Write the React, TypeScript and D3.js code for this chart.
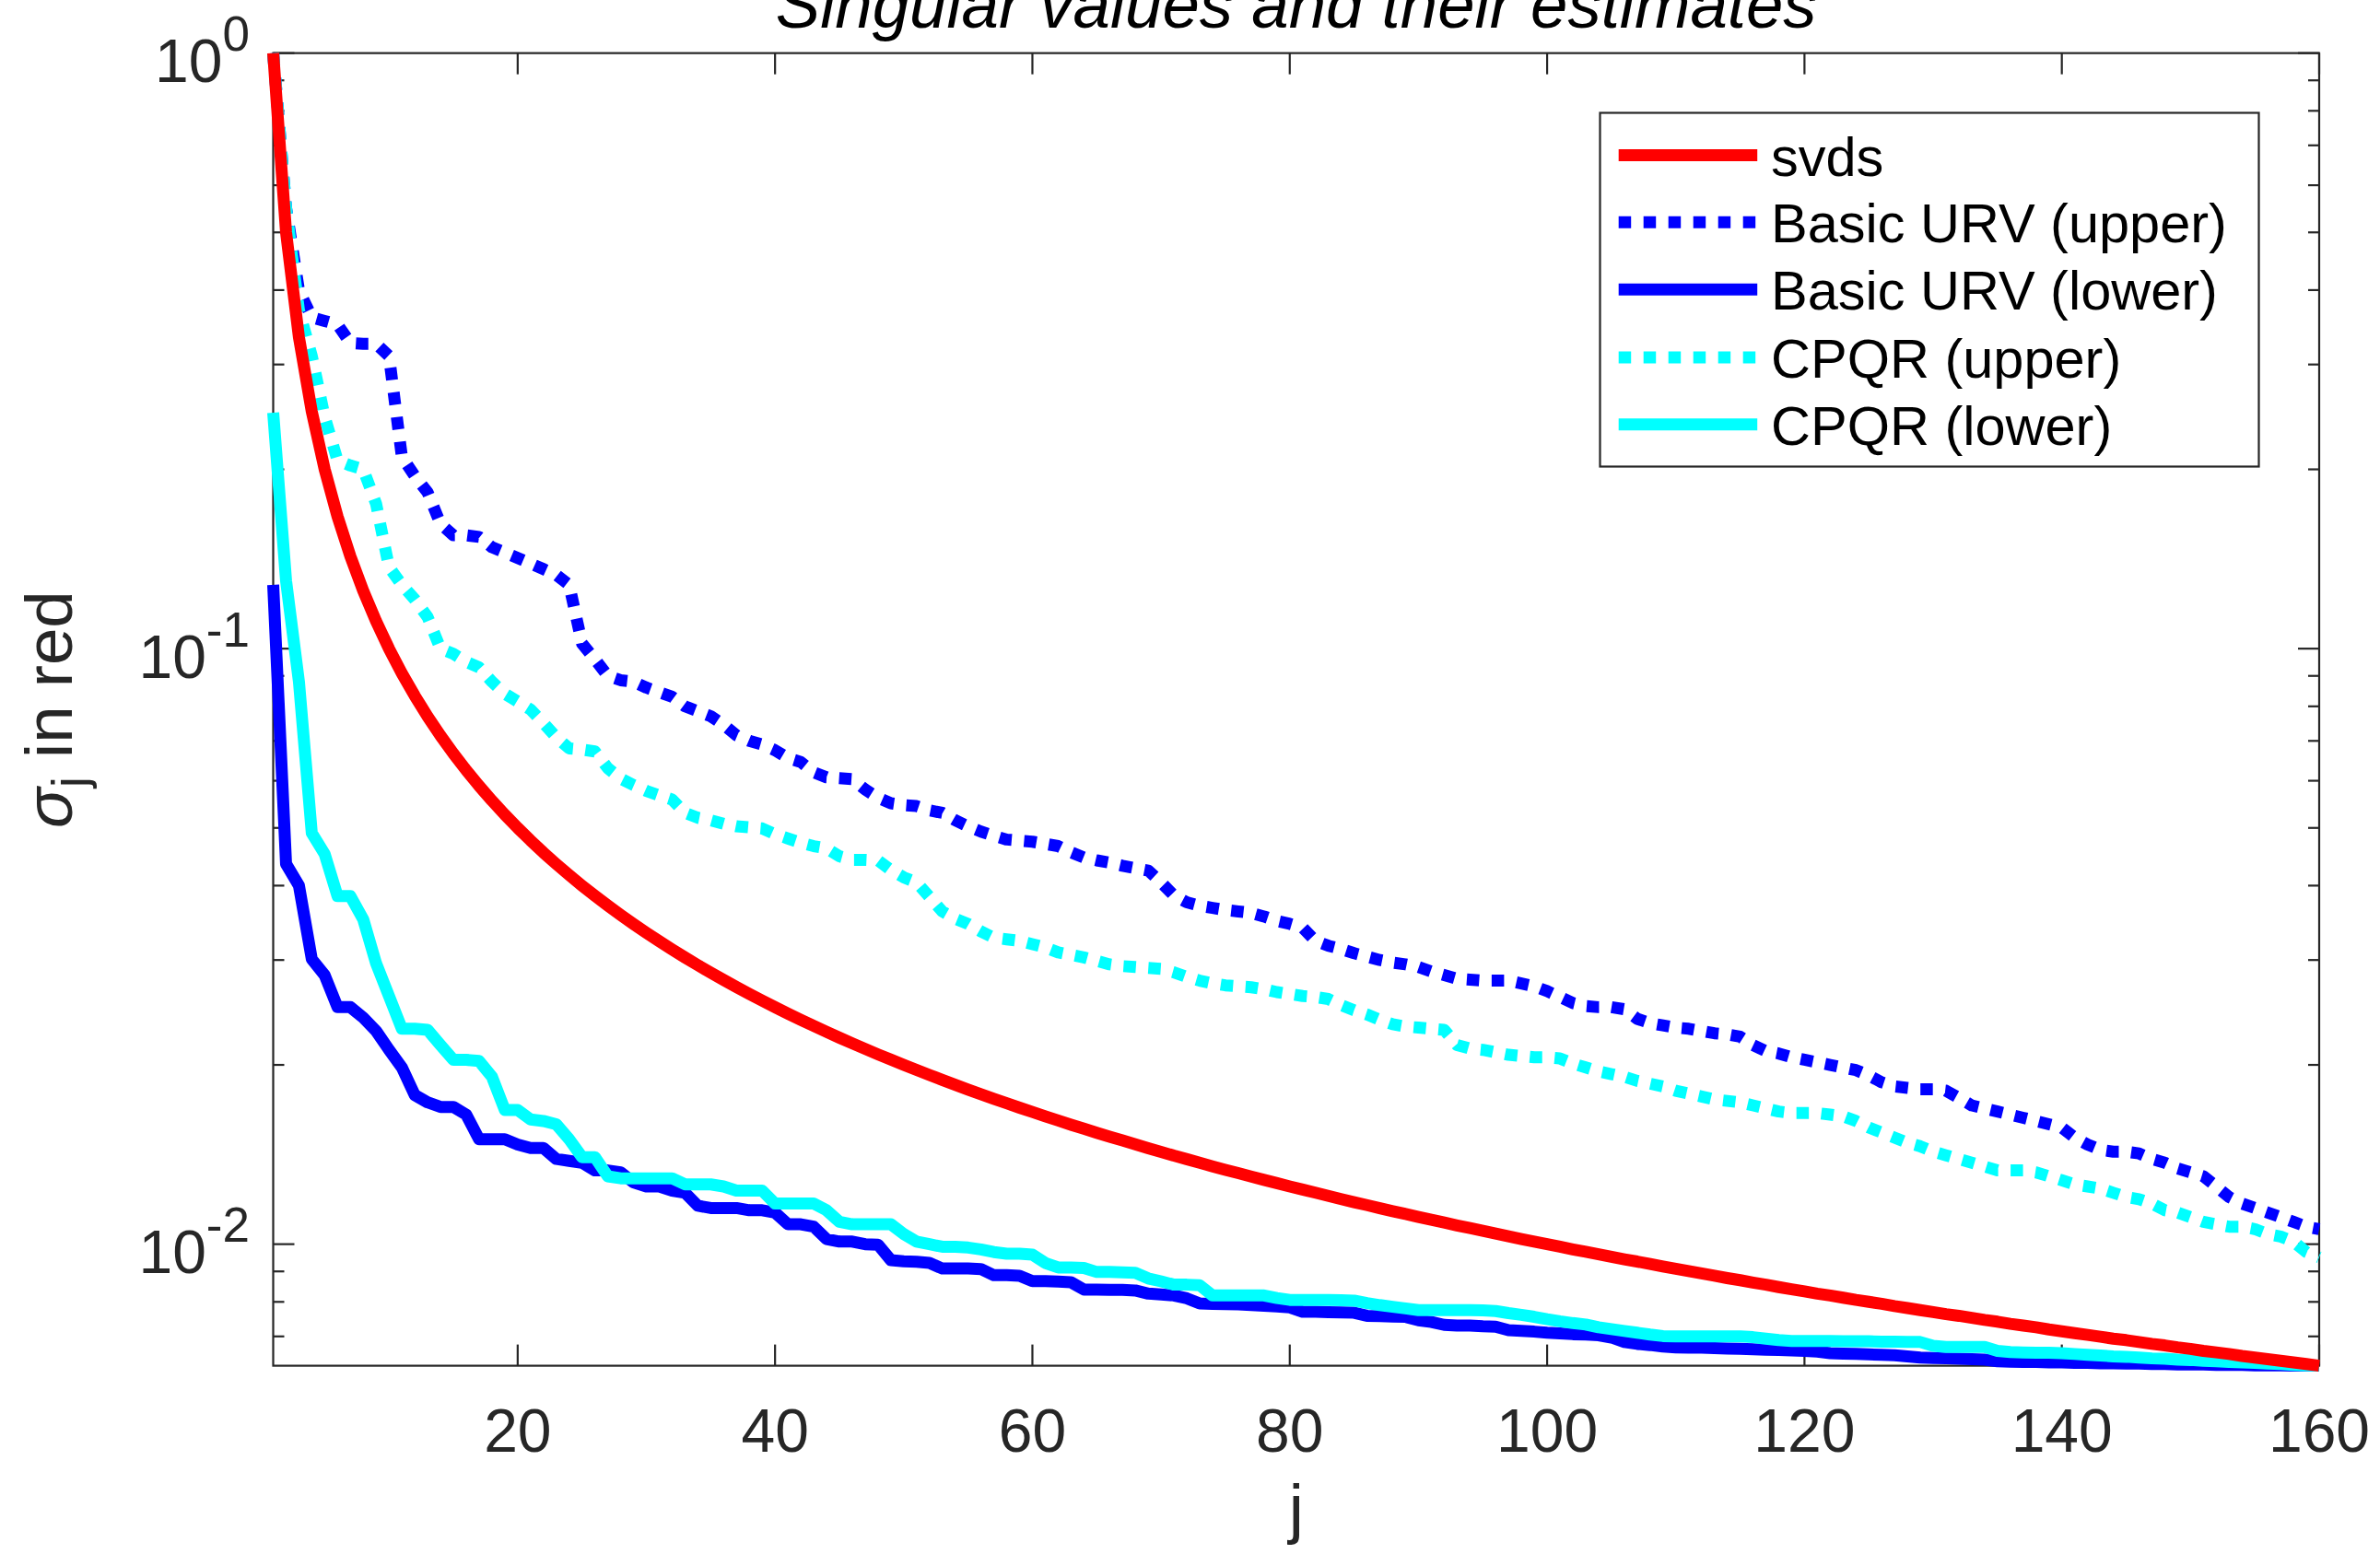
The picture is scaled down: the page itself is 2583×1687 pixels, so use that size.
import React from 'react';
import * as d3 from 'd3';

// Singular values of the test matrix (svds) and the bounds from two rank-revealing factorizations.
const SVDS: number[] = [
  1, 0.5, 0.3333, 0.25, 0.2, 0.1667, 0.1429, 0.125, 0.1111, 0.1,
  0.09091, 0.08333, 0.07692, 0.07143, 0.06667, 0.0625, 0.05882, 0.05556, 0.05263, 0.05,
  0.04762, 0.04545, 0.04348, 0.04167, 0.04, 0.03846, 0.03704, 0.03571, 0.03448, 0.03333,
  0.03226, 0.03125, 0.0303, 0.02941, 0.02857, 0.02778, 0.02703, 0.02632, 0.02564, 0.025,
  0.02439, 0.02381, 0.02326, 0.02273, 0.02222, 0.02174, 0.02128, 0.02083, 0.02041, 0.02,
  0.01961, 0.01923, 0.01887, 0.01852, 0.01818, 0.01786, 0.01754, 0.01724, 0.01695, 0.01667,
  0.01639, 0.01613, 0.01587, 0.01563, 0.01538, 0.01515, 0.01493, 0.01471, 0.01449, 0.01429,
  0.01408, 0.01389, 0.0137, 0.01351, 0.01333, 0.01316, 0.01299, 0.01282, 0.01266, 0.0125,
  0.01235, 0.0122, 0.01205, 0.0119, 0.01176, 0.01163, 0.01149, 0.01136, 0.01124, 0.01111,
  0.01099, 0.01087, 0.01075, 0.01064, 0.01053, 0.01042, 0.01031, 0.0102, 0.0101, 0.01,
  0.0099, 0.0098, 0.00971, 0.00962, 0.00952, 0.00943, 0.00935, 0.00926, 0.00917, 0.00909,
  0.00901, 0.00893, 0.00885, 0.00877, 0.0087, 0.00862, 0.00855, 0.00847, 0.0084, 0.00833,
  0.00826, 0.0082, 0.00813, 0.00806, 0.008, 0.00794, 0.00787, 0.00781, 0.00775, 0.00769,
  0.00763, 0.00758, 0.00752, 0.00746, 0.00741, 0.00735, 0.0073, 0.00725, 0.00719, 0.00714,
  0.00709, 0.00704, 0.00699, 0.00694, 0.0069, 0.00685, 0.0068, 0.00676, 0.00671, 0.00667,
  0.00662, 0.00658, 0.00654, 0.00649, 0.00645, 0.00641, 0.00637, 0.00633, 0.00629, 0.00625,
];

const URV_UPPER: number[] = [
  1.0, 0.55, 0.4, 0.36, 0.355, 0.35, 0.326, 0.325, 0.325, 0.31,
  0.21, 0.195, 0.183, 0.162, 0.155, 0.155, 0.154, 0.148, 0.145, 0.142,
  0.139, 0.136, 0.133, 0.128, 0.102, 0.096, 0.09, 0.0885, 0.088, 0.086,
  0.0845, 0.083, 0.08, 0.0785, 0.077, 0.0745, 0.0715, 0.07, 0.069, 0.0675,
  0.0655, 0.0645, 0.062, 0.0608, 0.0606, 0.0604, 0.058, 0.0562, 0.055, 0.0546,
  0.0544, 0.0535, 0.053, 0.0515, 0.0503, 0.0493, 0.0485, 0.0478, 0.0476, 0.0474,
  0.047, 0.0466, 0.0455, 0.0446, 0.0441, 0.0437, 0.0432, 0.0428, 0.0424, 0.0405,
  0.0385, 0.0375, 0.037, 0.0367, 0.0364, 0.0362, 0.036, 0.0355, 0.0349, 0.0345,
  0.034, 0.0323, 0.0317, 0.0313, 0.0308, 0.0304, 0.03, 0.0297, 0.0295, 0.0292,
  0.0287, 0.0283, 0.0279, 0.0278, 0.0277, 0.0277, 0.0277, 0.0274, 0.0271, 0.0266,
  0.026, 0.0254, 0.0251, 0.025, 0.025, 0.0248, 0.0239, 0.0235, 0.0233, 0.0231,
  0.023, 0.0228, 0.0226, 0.0225, 0.0223, 0.0216, 0.0211, 0.0209, 0.0206, 0.0204,
  0.0202, 0.02, 0.0198, 0.0196, 0.0192, 0.0187, 0.0184, 0.0183, 0.0182, 0.0182,
  0.0181, 0.0176, 0.0171, 0.0169, 0.0167, 0.0165, 0.0163, 0.0161, 0.0159, 0.0157,
  0.0151, 0.0147, 0.0144, 0.0143, 0.0143, 0.0142, 0.0139, 0.0137, 0.0134, 0.0132,
  0.013, 0.0125, 0.012, 0.0117, 0.0115, 0.0113, 0.0111, 0.0109, 0.0107, 0.0106,
];

const URV_LOWER: number[] = [
  0.128, 0.0435, 0.04, 0.0301, 0.0283, 0.025, 0.025, 0.024, 0.0228, 0.0212,
  0.0198, 0.0178, 0.0173, 0.017, 0.017, 0.0165, 0.015, 0.015, 0.015, 0.0147,
  0.0145, 0.0145, 0.0139, 0.0138, 0.0137, 0.0133, 0.0133, 0.0132, 0.0127, 0.0125,
  0.0125, 0.0123, 0.0122, 0.0116, 0.0115, 0.0115, 0.0115, 0.0114, 0.0114, 0.0113,
  0.0108, 0.0108, 0.0107, 0.0102, 0.0101, 0.0101, 0.01, 0.00998, 0.0094, 0.00936,
  0.00934, 0.0093, 0.0091, 0.0091, 0.0091, 0.00908, 0.00887, 0.00887, 0.00885, 0.00867,
  0.00867, 0.00865, 0.00863, 0.00839, 0.00839, 0.00838, 0.00838, 0.00836, 0.00826, 0.00823,
  0.0082, 0.00811, 0.00795, 0.00794, 0.00793, 0.00792, 0.0079, 0.00788, 0.00786, 0.00783,
  0.0077, 0.0077, 0.00769, 0.00768, 0.00767, 0.00758, 0.00757, 0.00756, 0.00755, 0.00745,
  0.0074, 0.00732, 0.0073, 0.0073, 0.00728, 0.00727, 0.00717, 0.00715, 0.00713, 0.0071,
  0.00708, 0.00706, 0.00705, 0.00703, 0.00697, 0.00685, 0.0068, 0.00677, 0.00673, 0.00671,
  0.0067, 0.0067, 0.00669, 0.00668, 0.00667, 0.00666, 0.00665, 0.00664, 0.00663, 0.00662,
  0.0066, 0.00656, 0.00655, 0.00654, 0.00653, 0.00652, 0.00651, 0.00648, 0.00645, 0.00644,
  0.00643, 0.00642, 0.00641, 0.0064, 0.00636, 0.00635, 0.00634, 0.00634, 0.00633, 0.00633,
  0.00632, 0.00632, 0.00631, 0.00631, 0.0063, 0.0063, 0.00629, 0.00629, 0.00628, 0.00628,
  0.00628, 0.00627, 0.00627, 0.00627, 0.00626, 0.00626, 0.00626, 0.00625, 0.00625, 0.00625,
];

const CPQR_UPPER: number[] = [
  1.0, 0.55, 0.37, 0.31, 0.245, 0.207, 0.203, 0.2, 0.175, 0.137,
  0.128, 0.121, 0.113, 0.1, 0.098, 0.095, 0.093, 0.088, 0.084, 0.0815,
  0.079, 0.075, 0.071, 0.068, 0.0677, 0.0672, 0.063, 0.0605, 0.059, 0.0577,
  0.0567, 0.0558, 0.053, 0.052, 0.0515, 0.0508, 0.0503, 0.0501, 0.0499, 0.0488,
  0.048, 0.0472, 0.0466, 0.0462, 0.0448, 0.0442, 0.0442, 0.0441, 0.0425, 0.0413,
  0.0405, 0.0383, 0.0362, 0.0352, 0.0345, 0.0335, 0.0327, 0.0325, 0.0323, 0.0319,
  0.0315, 0.0309, 0.0306, 0.0303, 0.0299, 0.0295, 0.0293, 0.0292, 0.0291, 0.029,
  0.0286, 0.0281, 0.0277, 0.0274, 0.0272, 0.0271, 0.027, 0.0268, 0.0265, 0.0263,
  0.0261, 0.026, 0.0258, 0.0252, 0.0247, 0.0243, 0.0238, 0.0234, 0.0232, 0.0231,
  0.023, 0.0229, 0.0216, 0.0213, 0.0212, 0.021, 0.0208, 0.0207, 0.0206, 0.0206,
  0.0205, 0.0201, 0.0198, 0.0195, 0.0193, 0.0191, 0.0188, 0.0186, 0.0184, 0.0181,
  0.0179, 0.0177, 0.0175, 0.0174, 0.0173, 0.0171, 0.0169, 0.0167, 0.0166, 0.0166,
  0.0166, 0.0165, 0.0164, 0.0161, 0.0157, 0.0154, 0.0151, 0.0148, 0.0146, 0.0143,
  0.0141, 0.0139, 0.0137, 0.0135, 0.0133, 0.0133, 0.0133, 0.0132, 0.013, 0.0128,
  0.0126, 0.0125, 0.0124, 0.0122, 0.012, 0.0119, 0.0117, 0.0114, 0.0113, 0.0111,
  0.0109, 0.0108, 0.0107, 0.0107, 0.0106, 0.0104, 0.0103, 0.0101, 0.0097, 0.0095,
];

const CPQR_LOWER: number[] = [
  0.249, 0.13, 0.088, 0.049, 0.0452, 0.0384, 0.0384, 0.0351, 0.0296, 0.0261,
  0.023, 0.023, 0.0229, 0.0216, 0.0204, 0.0204, 0.0203, 0.0191, 0.0168, 0.0168,
  0.0162, 0.0161, 0.0159, 0.015, 0.014, 0.014, 0.013, 0.0129, 0.0129, 0.0129,
  0.0129, 0.0129, 0.0126, 0.0126, 0.0126, 0.0125, 0.0123, 0.0123, 0.0123, 0.0117,
  0.0117, 0.0117, 0.0117, 0.0114, 0.0109, 0.0108, 0.0108, 0.0108, 0.0108, 0.0104,
  0.0101, 0.01, 0.0099, 0.0099, 0.00987, 0.0098, 0.0097, 0.00964, 0.00964, 0.0096,
  0.0093, 0.00914, 0.00914, 0.00912, 0.00898, 0.00898, 0.00897, 0.00895, 0.00876, 0.00866,
  0.00855, 0.00855, 0.00853, 0.0082, 0.0082, 0.0082, 0.0082, 0.0082, 0.00812, 0.00806,
  0.00806, 0.00806, 0.00806, 0.00805, 0.00804, 0.00796, 0.0079, 0.00785, 0.0078, 0.00775,
  0.00775, 0.00775, 0.00775, 0.00775, 0.00774, 0.00772, 0.00766, 0.00761, 0.00755, 0.00748,
  0.00742, 0.00737, 0.00733, 0.00725, 0.0072, 0.00715, 0.0071, 0.00705, 0.00701, 0.007,
  0.007, 0.007, 0.007, 0.007, 0.007, 0.00698, 0.00694, 0.0069, 0.00688, 0.00688,
  0.00688, 0.00688, 0.00687, 0.00687, 0.00687, 0.00686, 0.00686, 0.00685, 0.00685, 0.00675,
  0.00672, 0.00672, 0.00672, 0.00672, 0.00662, 0.00659, 0.00658, 0.00657, 0.00657, 0.00656,
  0.00654, 0.00652, 0.0065, 0.00648, 0.00647, 0.00645, 0.00643, 0.00642, 0.0064, 0.00639,
  0.00637, 0.00636, 0.00634, 0.00633, 0.00632, 0.0063, 0.00629, 0.00627, 0.00626, 0.00625,
];

const X_LIMITS: [number, number] = [1, 160];
const Y_LIMITS: [number, number] = [0.00625, 1];
const X_TICKS: number[] = [20, 40, 60, 80, 100, 120, 140, 160];
const Y_MAJOR_TICKS: number[] = [1, 0.1, 0.01];
const Y_MAJOR_EXPONENTS: string[] = ['0', '-1', '-2'];
const Y_MINOR_TICKS: number[] = [
  0.9, 0.8, 0.7, 0.6, 0.5, 0.4, 0.3, 0.2,
  0.09, 0.08, 0.07, 0.06, 0.05, 0.04, 0.03, 0.02,
  0.009, 0.008, 0.007,
];

const LEGEND_LABELS: string[] = [
  'svds',
  'Basic URV (upper)',
  'Basic URV (lower)',
  'CPQR (upper)',
  'CPQR (lower)',
];

const TITLE = 'Singular values and their estimates';
const X_LABEL = 'j';

const FONT = '"Liberation Sans", Arial, Helvetica, sans-serif';
const AXIS_COLOR = '#262626';
const LINE_WIDTH = 13;
const DOT_PATTERN = '13.5 13.5';

const WIDTH = 2583;
const HEIGHT = 1687;
const PLOT = { left: 296.5, right: 2517, top: 57.65, bottom: 1482.6 };

type Series = { label: string; values: number[]; color: string; dotted: boolean };

export default function App() {
  const x = d3.scaleLinear().domain(X_LIMITS).range([PLOT.left, PLOT.right]);
  const y = d3.scaleLog().domain(Y_LIMITS).range([PLOT.bottom, PLOT.top]);
  const line = d3
    .line<number>()
    .x((_, i) => x(i + 1))
    .y((d) => y(d));

  const series: Series[] = [
    { label: LEGEND_LABELS[0], values: SVDS, color: '#ff0000', dotted: false },
    { label: LEGEND_LABELS[1], values: URV_UPPER, color: '#0000ff', dotted: true },
    { label: LEGEND_LABELS[2], values: URV_LOWER, color: '#0000ff', dotted: false },
    { label: LEGEND_LABELS[3], values: CPQR_UPPER, color: '#00ffff', dotted: true },
    { label: LEGEND_LABELS[4], values: CPQR_LOWER, color: '#00ffff', dotted: false },
  ];
  // svds is drawn last so it sits on top of the estimates
  const drawOrder = [1, 2, 3, 4, 0];

  const majorLen = 23;
  const minorLen = 12;
  const tickFont = 66;
  const supFont = 53;
  const labelFont = 72.6;
  const legendFont = 59.5;

  const legend = { x: 1736.5, y: 122.5, w: 715, h: 384 };
  const legendRowY = [168.6, 241.3, 314.3, 388, 460.7];

  return (
    <svg
      width={WIDTH}
      height={HEIGHT}
      viewBox={`0 0 ${WIDTH} ${HEIGHT}`}
      style={{ position: 'absolute', left: 0, top: 0, display: 'block', background: '#fff' }}
      fontFamily={FONT}
    >
      <rect x={0} y={0} width={WIDTH} height={HEIGHT} fill="#fff" />

      {/* axes box */}
      <rect
        x={PLOT.left}
        y={PLOT.top}
        width={PLOT.right - PLOT.left}
        height={PLOT.bottom - PLOT.top}
        fill="none"
        stroke={AXIS_COLOR}
        strokeWidth={2.2}
      />

      {/* x ticks (bottom and top, pointing inward) */}
      {X_TICKS.map((t) => (
        <g key={`xt${t}`} stroke={AXIS_COLOR} strokeWidth={2.2}>
          <line x1={x(t)} x2={x(t)} y1={PLOT.bottom} y2={PLOT.bottom - majorLen} />
          <line x1={x(t)} x2={x(t)} y1={PLOT.top} y2={PLOT.top + majorLen} />
        </g>
      ))}
      {X_TICKS.map((t) => (
        <text
          key={`xl${t}`}
          x={x(t)}
          y={1576}
          textAnchor="middle"
          fontSize={tickFont}
          fill={AXIS_COLOR}
        >
          {t}
        </text>
      ))}

      {/* y ticks (left and right) */}
      {Y_MAJOR_TICKS.map((t) => (
        <g key={`ymt${t}`} stroke={AXIS_COLOR} strokeWidth={2.2}>
          <line x1={PLOT.left} x2={PLOT.left + majorLen} y1={y(t)} y2={y(t)} />
          <line x1={PLOT.right} x2={PLOT.right - majorLen} y1={y(t)} y2={y(t)} />
        </g>
      ))}
      {Y_MINOR_TICKS.map((t) => (
        <g key={`ynt${t}`} stroke={AXIS_COLOR} strokeWidth={2.2}>
          <line x1={PLOT.left} x2={PLOT.left + minorLen} y1={y(t)} y2={y(t)} />
          <line x1={PLOT.right} x2={PLOT.right - minorLen} y1={y(t)} y2={y(t)} />
        </g>
      ))}
      {Y_MAJOR_TICKS.map((t, i) => (
        <text
          key={`yl${t}`}
          x={271}
          y={y(t) + 31.5}
          textAnchor="end"
          fontSize={tickFont}
          fill={AXIS_COLOR}
        >
          10
          <tspan dy={-34} fontSize={supFont}>
            {Y_MAJOR_EXPONENTS[i]}
          </tspan>
        </text>
      ))}

      {/* data */}
      {drawOrder.map((k) => {
        const s = series[k];
        return (
          <path
            key={`s${k}`}
            d={line(s.values) || ''}
            fill="none"
            stroke={s.color}
            strokeWidth={LINE_WIDTH}
            strokeDasharray={s.dotted ? DOT_PATTERN : undefined}
            strokeLinejoin="round"
            strokeLinecap="butt"
          />
        );
      })}

      {/* title, partly above the top edge */}
      <text
        x={(PLOT.left + PLOT.right) / 2}
        y={30}
        textAnchor="middle"
        fontSize={labelFont}
        fontStyle="italic"
        fill="#000"
      >
        {TITLE}
      </text>

      {/* axis labels */}
      <text
        x={(PLOT.left + PLOT.right) / 2}
        y={1662}
        textAnchor="middle"
        fontSize={labelFont}
        fill={AXIS_COLOR}
      >
        {X_LABEL}
      </text>
      <text
        transform={`translate(78, ${(PLOT.top + PLOT.bottom) / 2}) rotate(-90)`}
        textAnchor="middle"
        fontSize={labelFont}
        fill={AXIS_COLOR}
      >
        <tspan fontStyle="italic">σ</tspan>
        <tspan dy={16} fontSize={54}>
          j
        </tspan>
        <tspan dy={-16}> in red</tspan>
      </text>

      {/* legend */}
      <rect
        x={legend.x}
        y={legend.y}
        width={legend.w}
        height={legend.h}
        fill="#fff"
        stroke={AXIS_COLOR}
        strokeWidth={2.2}
      />
      {series.map((s, i) => (
        <g key={`lg${i}`}>
          <line
            x1={1756.7}
            x2={1907.2}
            y1={legendRowY[i]}
            y2={legendRowY[i]}
            stroke={s.color}
            strokeWidth={LINE_WIDTH}
            strokeDasharray={s.dotted ? DOT_PATTERN : undefined}
          />
          <text x={1922} y={legendRowY[i] + 22} fontSize={legendFont} fill="#000">
            {s.label}
          </text>
        </g>
      ))}
    </svg>
  );
}
